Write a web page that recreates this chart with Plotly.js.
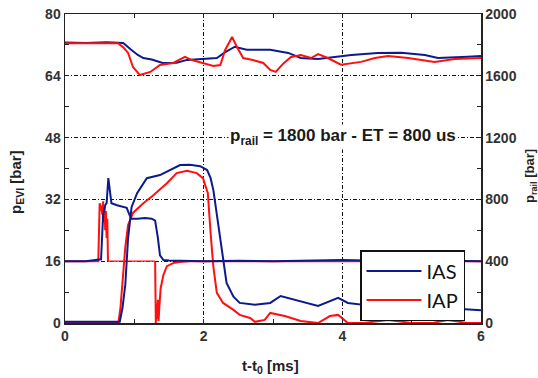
<!DOCTYPE html>
<html>
<head>
<meta charset="utf-8">
<script src="https://cdn.plot.ly/plotly-3.0.1.min.js"></script>
<style>html,body{margin:0;padding:0;background:#fff;}#chart{width:538px;height:378px;}</style>
</head>
<body>
<div id="chart"></div>
<script>
// ---- data ----
// rail pressure [bar] (right axis)
var IAS_rail_t = [0, 0.3, 0.6, 0.84, 0.95, 1.05, 1.13, 1.25, 1.41, 1.61, 1.76, 2.05, 2.19, 2.3, 2.45, 2.62, 2.96, 3.22, 3.4, 3.65, 3.9, 4.13, 4.51, 4.85, 5.19, 5.38, 5.81, 6];
var IAS_rail   = [1815, 1813, 1817, 1812, 1770, 1735, 1715, 1705, 1683, 1685, 1703, 1708, 1715, 1750, 1788, 1768, 1768, 1748, 1715, 1708, 1723, 1735, 1748, 1750, 1735, 1715, 1723, 1728];
var IAP_rail_t = [0, 0.4, 0.77, 0.85, 0.91, 0.98, 1.08, 1.23, 1.37, 1.56, 1.73, 1.83, 1.99, 2.14, 2.24, 2.31, 2.41, 2.48, 2.57, 2.71, 2.86, 2.96, 3.04, 3.15, 3.26, 3.4, 3.55, 3.65, 3.79, 3.98, 4.27, 4.47, 4.66, 4.95, 5.33, 5.62, 6];
var IAP_rail   = [1810, 1810, 1810, 1780, 1748, 1657, 1605, 1625, 1670, 1683, 1722, 1702, 1683, 1663, 1670, 1767, 1851, 1786, 1715, 1702, 1683, 1638, 1625, 1680, 1722, 1735, 1715, 1741, 1715, 1672, 1690, 1715, 1728, 1715, 1690, 1709, 1715];
// p_EVI [bar] (left axis)
var IAS_pev_t = [0, 0.3, 0.52, 0.55, 0.58, 0.6, 0.625, 0.645, 0.67, 0.75, 0.85, 0.89, 0.93, 0.96, 1.05, 1.15, 1.25, 1.3, 1.34, 1.37, 1.42, 1.5, 2, 2.5, 3, 3.5, 4, 4.5, 5, 5.5, 6];
var IAS_pev   = [16, 16, 16.5, 28, 30.5, 31, 37.5, 34, 31, 30.5, 30, 29.8, 28, 27, 27, 27.2, 27, 26.5, 22, 17.5, 16.3, 16.2, 16, 16.1, 16, 16.1, 16.3, 16.1, 16, 16.1, 16];
var IAP_pev_t = [0, 0.3, 0.48, 0.5, 0.52, 0.54, 0.55, 0.56, 0.57, 0.58, 0.59, 0.6, 0.61, 0.62];
var IAP_pev   = [16, 16, 16, 31, 30, 28, 31.5, 26, 30, 24, 29, 22, 27, 16];
var IAP_pev_gap_t = [0.62, 1.3];
var IAP_pev_gap   = [16, 16];
var IAP_pev2_t = [1.3, 1.31, 1.32, 1.33, 1.34, 1.35, 1.36, 1.38, 1.42, 1.47, 1.56, 1.65, 1.8, 2.5, 3, 3.5, 4, 4.5, 5, 5.5, 6];
var IAP_pev2   = [16, 0, 5, 1, 6, 0.5, 4, 9, 12.5, 14.7, 15.5, 15.8, 16, 16, 16, 16, 16, 16, 16, 16, 16];
// rising signal (left axis)
var IAS_lift_t = [0, 0.4, 0.79, 0.83, 0.87, 0.91, 0.96, 1.04, 1.18, 1.37, 1.51, 1.66, 1.8, 1.95, 2.05, 2.1, 2.14, 2.21, 2.26, 2.33, 2.43, 2.52, 2.74, 2.96, 3.11, 3.4, 3.65, 3.94, 4.08, 4.4, 4.8, 5.2, 5.6, 5.9, 6];
var IAS_lift   = [0.3, 0.3, 0.3, 4, 10, 22, 30, 33.6, 37.5, 38.3, 39.6, 40.9, 41, 40.6, 39.6, 37.5, 34.4, 25.9, 18.9, 10.4, 6.8, 5.2, 4.7, 5.2, 7.0, 5.7, 4.4, 6.5, 5.2, 4.5, 4, 4.2, 3.8, 3.4, 3.3];
var IAP_lift_t = [0, 0.4, 0.77, 0.8, 0.83, 0.87, 0.91, 0.98, 1.13, 1.27, 1.47, 1.61, 1.76, 1.9, 1.99, 2.06, 2.1, 2.14, 2.19, 2.28, 2.43, 2.52, 2.67, 2.74, 2.88, 2.96, 3.17, 3.4, 3.65, 3.82, 3.94, 4.08, 4.3, 4.66, 5.0, 5.3, 5.52, 5.8, 6];
var IAP_lift   = [0, 0, 0, 4, 10, 19.7, 25.4, 28.5, 31, 33, 36.2, 38.8, 39.4, 38.8, 37.5, 33.6, 23.3, 14.5, 7.8, 5.2, 3.4, 2.1, 1.3, 0.3, 0.8, 2.6, 1.8, 0.5, 0, 1.8, 2.1, 0, 0, 0.8, 0, 0, 0.8, 0, 0];

var xTicks = [0, 2, 4, 6];
var yLeftTicks = [0, 16, 32, 48, 64, 80];
var yRightTicks = [0, 400, 800, 1200, 1600, 2000];
var seriesNames = ['IAS', 'IAP'];
var BLUE = '#0d1a8c', RED = '#ff1010';

// ---- layout helpers (pixel -> paper) ----
var L = 65, R = 481, T = 14, B = 323;
function px(x){ return (x - L) / (R - L); }
function py(y){ return (B - y) / (B - T); }

function tr(x, y, color, name, show, axis, w){
  return {x: x, y: y, type: 'scatter', mode: 'lines', name: name, legendgroup: name,
          showlegend: show, yaxis: axis || 'y', line: {color: color, width: w || 2}, hoverinfo: 'skip'};
}
var data = [
  tr(IAS_rail_t, IAS_rail, BLUE, seriesNames[0], true, 'y2'),
  tr(IAP_rail_t, IAP_rail, RED, seriesNames[1], true, 'y2'),
  tr(IAP_pev_gap_t, IAP_pev_gap, RED, seriesNames[1], false, 'y', 1.2),
  tr(IAP_lift_t, IAP_lift, RED, seriesNames[1], false),
  tr(IAP_pev_t, IAP_pev, RED, seriesNames[1], false),
  tr(IAP_pev2_t, IAP_pev2, RED, seriesNames[1], false),
  tr(IAS_lift_t, IAS_lift, BLUE, seriesNames[0], false),
  tr(IAS_pev_t, IAS_pev, BLUE, seriesNames[0], false)
];

var tickFont = {family: 'Liberation Sans, Arial, sans-serif', size: 14, color: '#333', weight: 'bold'};
var titleFont = {family: 'Liberation Sans, Arial, sans-serif', size: 15, color: '#222', weight: 'bold'};
var gridDash = '4px,2px,1px,2px';

var layout = {
  width: 538, height: 378,
  margin: {l: L, r: 538 - R, t: T, b: 378 - B, pad: 0},
  paper_bgcolor: '#fff', plot_bgcolor: '#fff',
  showlegend: true,
  legend: {x: px(360), y: py(250), xanchor: 'left', yanchor: 'top', tracegroupgap: 0,
           bordercolor: '#111', borderwidth: 1.5, bgcolor: '#fff', itemwidth: 55,
           font: {family: 'Lato, Open Sans, sans-serif', size: 20, color: '#111'}},
  xaxis: {range: [0, 6], tickvals: xTicks, ticktext: xTicks.map(String), ticks: 'inside', ticklen: 4,
          tickcolor: '#222', showline: true, linecolor: '#222', linewidth: 1.5, mirror: 'allticks',
          showgrid: true, gridcolor: '#111', gridwidth: 1, griddash: gridDash, zeroline: false,
          tickfont: tickFont, fixedrange: true,
          minor: {dtick: 1, tick0: 1, ticks: 'inside', ticklen: 4, tickcolor: '#222', showgrid: false}},
  yaxis: {range: [0, 80], tickvals: yLeftTicks, ticktext: yLeftTicks.map(String), ticks: 'inside', ticklen: 4,
          tickcolor: '#222', showline: true, linecolor: '#222', linewidth: 1.5, mirror: true,
          showgrid: true, gridcolor: '#111', gridwidth: 1, griddash: gridDash, zeroline: false,
          tickfont: tickFont, fixedrange: true,
          minor: {dtick: 8, tick0: 8, ticks: 'inside', ticklen: 4, tickcolor: '#222', showgrid: false}},
  yaxis2: {range: [0, 2000], overlaying: 'y', side: 'right', tickvals: yRightTicks, ticktext: yRightTicks.map(String),
           ticks: 'inside', ticklen: 4, tickcolor: '#222', showline: true, linecolor: '#222', linewidth: 1.5,
           showgrid: false, zeroline: false, tickfont: tickFont, fixedrange: true,
           minor: {dtick: 200, tick0: 200, ticks: 'inside', ticklen: 4, tickcolor: '#222', showgrid: false}},
  annotations: [
    {xref: 'paper', yref: 'paper', x: px(343), y: py(137), xanchor: 'center', yanchor: 'middle', showarrow: false,
     text: 'p<sub>rail</sub> = 1800 bar - ET = 800 us', bgcolor: '#fff', borderpad: 1,
     font: {family: 'Liberation Sans, Arial, sans-serif', size: 17, color: '#1a1a1a', weight: 'bold'}},
    {xref: 'paper', yref: 'paper', x: px(270), y: py(366), xanchor: 'center', yanchor: 'middle', showarrow: false,
     text: 't-t<sub>0</sub> [ms]', font: titleFont},
    {xref: 'paper', yref: 'paper', x: px(16), y: py(182), xanchor: 'center', yanchor: 'middle', showarrow: false,
     textangle: -90, text: 'p<sub>EVI</sub> [bar]', font: titleFont},
    {xref: 'paper', yref: 'paper', x: px(530), y: py(176), xanchor: 'center', yanchor: 'middle', showarrow: false,
     textangle: -90, text: 'p<sub>rail</sub> [bar]',
     font: {family: 'Liberation Sans, Arial, sans-serif', size: 13, color: '#222', weight: 'bold'}}
  ]
};

Plotly.newPlot('chart', data, layout, {displayModeBar: false, staticPlot: true});
</script>
</body>
</html>
